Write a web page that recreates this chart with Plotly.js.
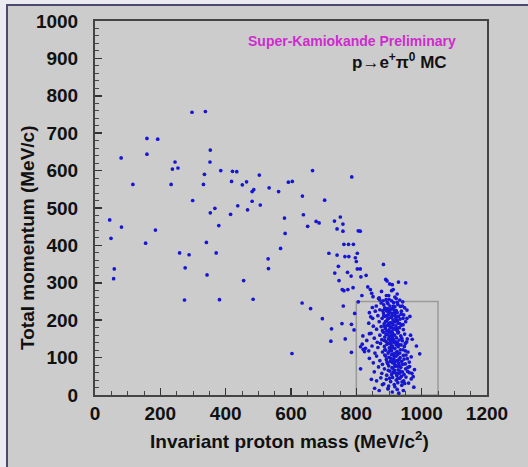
<!DOCTYPE html>
<html>
<head>
<meta charset="utf-8">
<script src="https://cdn.plot.ly/plotly-3.0.1.min.js"></script>
<style>html,body{margin:0;padding:0;background:#eaeaf0;}#chart{width:528px;height:467px;}</style>
</head>
<body>
<div id="chart"></div>
<script>
// Sparse events (invariant proton mass, total momentum)
const sparseMass = [297,338,159,192,353,159,80,245,352,237,254,335,385,421,434,418,116,233,332,299,367,353,415,379,45,81,185,49,
451,464,503,481,486,533,562,592,604,666,786,635,703,481,437,467,506,580,638,651,677,686,733,751,759,741,759,806,812,582,
155,341,259,288,371,59,57,276,343,274,381,
568,530,531,455,484,716,741,762,776,765,777,745,734,773,747,757,762,774,760,634,660,696,724,756,722,766,603,
791,803,797,800,883,803,812,784,814,830,790,
951,890,894,902,910,929,925,877,908,913,892,900,870,843,847,851,817,835,806,795,785,793,785,813,821,825,813,840,844,840,849,872,882,887,894,902,925,933,955,955,943,966,971,984,994,974,976,948,856,897,846,880];
const sparseMom = [756,758,686,684,655,644,634,623,623,604,607,590,600,598,597,571,563,563,563,520,499,487,483,453,468,449,441,419,
562,570,588,544,549,554,544,569,571,600,583,532,521,518,506,495,508,473,482,451,464,460,465,476,457,444,438,439,438,432,
406,408,380,375,380,337,311,340,321,254,255,
392,364,338,306,256,379,374,403,403,370,370,344,326,328,306,282,279,282,238,246,231,204,177,191,144,150,111,
403,379,367,357,349,337,337,318,316,320,287,
300,309,305,297,295,302,270,277,279,282,266,256,260,282,272,263,266,289,249,218,189,174,114,129,122,116,70,164,209,220,234,254,252,229,231,229,248,254,227,205,205,160,149,131,110,49,21,31,18,18,42,28];

// Dense signal cluster near the proton mass
const clusterMass = [
868,876,884,891,897,903,908,914,918,922,927,935,942,887,899,911,861,948,
858,866,872,879,883,888,892,896,899,902,906,909,912,915,919,921,925,929,934,938,945,881,894,905,917,850,964,
838,852,862,870,876,880,885,889,893,896,900,903,906,909,912,915,918,921,924,928,932,938,944,951,886,898,911,926,
820,832,845,855,864,872,878,883,887,891,895,898,902,905,908,911,914,917,920,923,927,931,936,941,948,956,901,913,
818,828,838,848,857,866,874,880,886,890,894,897,901,904,908,911,914,918,921,925,928,933,937,943,950,958,906,924,
840,852,862,872,880,887,892,896,900,904,908,911,915,918,922,926,930,934,939,944,950,956,962,968,913,927,
855,868,878,886,893,899,903,908,912,916,920,924,928,932,936,941,946,951,957,963,970,978,917,931,
862,875,884,892,899,905,911,916,922,927,933,939,945,952,960,968,918,940,
870,897,910,925,944,930,
884,889,893,897,901,905,909,913,917,921,925,929,933,937,941,895,899,903,907,911,915,919,923,927,931,935,939,943,947,952,
886,890,894,898,902,906,910,914,918,922,926,930,934,938,942,946,950,954,958,962,887,891,895,899,903,907,911,915,919,923,928];
const clusterMom = [
258,246,241,255,244,238,252,247,236,258,242,237,249,233,230,232,238,233,
224,212,228,205,219,210,226,203,215,222,208,218,201,227,212,205,220,210,203,224,214,226,213,229,219,205,210,
192,184,176,196,183,172,190,178,198,186,174,193,181,170,188,196,177,185,173,192,180,187,175,196,184,190,179,199,
158,146,165,152,141,160,148,168,155,143,162,150,168,145,157,165,148,160,142,153,166,147,158,145,163,150,157,141,
136,125,118,131,112,127,138,115,130,120,136,112,126,138,118,131,110,124,137,116,129,112,134,121,138,115,123,133,
98,86,104,92,82,107,95,84,101,90,108,86,97,81,104,92,85,100,90,106,83,97,88,102,93,109,
62,75,58,70,53,78,64,55,72,60,77,52,67,58,74,62,55,70,63,76,58,68,66,79,
38,46,30,42,24,36,47,28,40,33,45,26,38,48,32,43,22,35,
12,16,8,15,12,5,
212,196,171,139,117,98,73,61,89,113,141,168,191,216,238,247,205,183,161,127,104,79,58,44,95,121,152,188,130,107,
146,104,88,66,45,193,211,238,262,226,178,135,64,50,82,96,118,142,74,60,121,162,224,266,148,132,152,177,196,91,77];

const massAll = sparseMass.concat(clusterMass);
const momAll = sparseMom.concat(clusterMom);

// Axis ticks
const xTicks = [0,200,400,600,800,1000,1200];
const yTicks = [0,100,200,300,400,500,600,700,800,900,1000];

const FONT = 'Liberation Sans, Arial, Helvetica, sans-serif';
const L=95, R=41, T=21, B=72, W=528-L-R, H=467-T-B;
const px = v => (v - L) / W;
const py = v => 1 - (v - T) / H;

const trace = {
  x: massAll, y: momAll, type: 'scatter', mode: 'markers',
  marker: {color: '#1616d2', size: 3.7, symbol: 'circle', line: {width: 0}},
  hoverinfo: 'skip'
};

const layout = {
  width: 528, height: 467,
  margin: {l: L, r: R, t: T, b: B, pad: 0},
  paper_bgcolor: '#eaeaf0',
  plot_bgcolor: '#cccccc',
  showlegend: false,
  font: {family: FONT, color: '#111'},
  xaxis: {
    range: [0, 1200], tickvals: xTicks, ticktext: xTicks.map(String),
    ticks: 'inside', ticklen: 7, tickwidth: 1.5, tickcolor: '#333',
    minor: {dtick: 50, tick0: 0, ticks: 'inside', ticklen: 4, tickwidth: 1, tickcolor: '#444', showgrid: false},
    showline: true, linecolor: '#444', linewidth: 2, mirror: true,
    showgrid: false, zeroline: false,
    tickfont: {family: FONT, size: 19, weight: 'bold', color: '#111'},
    ticklabelstandoff: 0
  },
  yaxis: {
    range: [0, 1000], tickvals: yTicks, ticktext: yTicks.map(String),
    ticks: 'inside', ticklen: 7, tickwidth: 1.5, tickcolor: '#333',
    minor: {dtick: 20, tick0: 0, ticks: 'inside', ticklen: 4, tickwidth: 1, tickcolor: '#444', showgrid: false},
    showline: true, linecolor: '#444', linewidth: 2, mirror: true,
    showgrid: false, zeroline: false,
    tickfont: {family: FONT, size: 19, weight: 'bold', color: '#111'},
    ticklabelstandoff: 11
  },
  shapes: [
    {type: 'rect', xref: 'paper', yref: 'paper', layer: 'below',
     x0: px(7), x1: px(560), y0: py(500), y1: py(5),
     fillcolor: '#cccccc', line: {color: '#4a4a6e', width: 2}},
    {type: 'rect', xref: 'x', yref: 'y', layer: 'below',
     x0: 800, x1: 1050, y0: 0, y1: 250,
     line: {color: '#9a9a9a', width: 1.5}}
  ],
  annotations: [
    {xref: 'paper', yref: 'paper', x: px(27), y: py(238), text: 'Total momentum (MeV/c)',
     textangle: -90, showarrow: false, xanchor: 'center', yanchor: 'middle',
     font: {family: FONT, size: 19, weight: 'bold', color: '#111'}},
    {xref: 'paper', yref: 'paper', x: px(289), y: py(440), text: 'Invariant proton mass (MeV/c<sup>2</sup>)',
     showarrow: false, xanchor: 'center', yanchor: 'middle',
     font: {family: FONT, size: 19, weight: 'bold', color: '#111'}},
    {xref: 'paper', yref: 'paper', x: px(458), y: py(41), text: 'Super-Kamiokande Preliminary',
     showarrow: false, xanchor: 'right', yanchor: 'middle',
     font: {family: FONT, size: 14, weight: 'bold', color: '#cc2ccc'}},
    {xref: 'paper', yref: 'paper', x: px(449), y: py(61), text: 'p\u2192e<sup>+</sup>\u03c0<sup>0</sup> MC',
     showarrow: false, xanchor: 'right', yanchor: 'middle',
     font: {family: FONT, size: 17, weight: 'bold', color: '#111'}}
  ]
};

Plotly.newPlot('chart', [trace], layout, {staticPlot: true, displayModeBar: false});
</script>
</body>
</html>
